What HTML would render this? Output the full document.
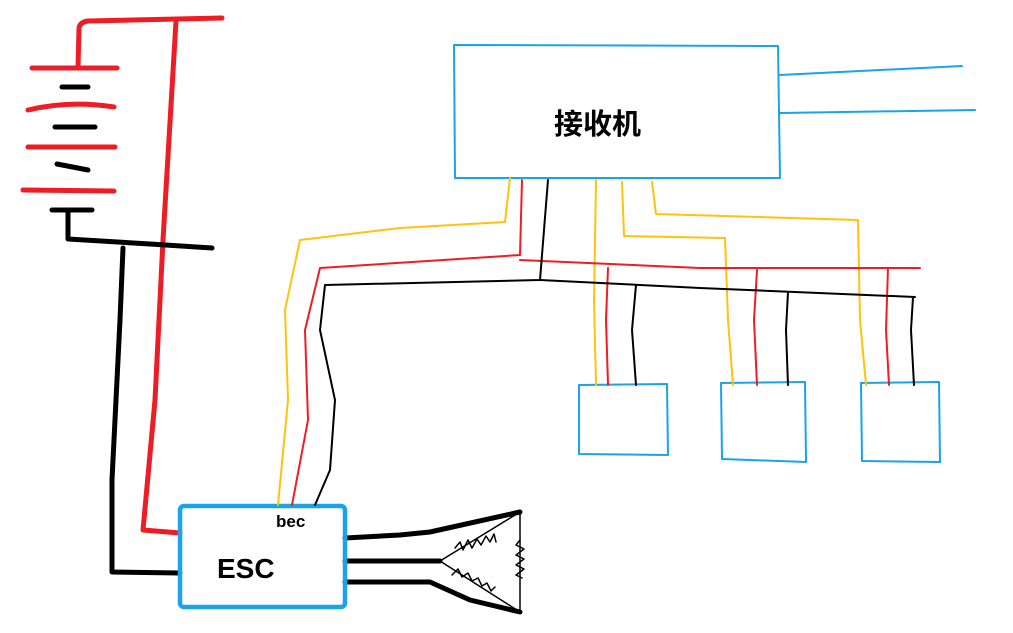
<!DOCTYPE html>
<html><head><meta charset="utf-8"><style>
html,body{margin:0;padding:0;background:#fff;width:1013px;height:633px;overflow:hidden}
svg{display:block}
</style></head><body>
<svg width="1013" height="633" viewBox="0 0 1013 633" xmlns="http://www.w3.org/2000/svg">
<g fill="none" stroke-linecap="round" stroke-linejoin="round">
<!-- battery -->
<g stroke="#ee1c24" stroke-width="5">
<path d="M78,68 L79,28 Q80,22 88,21 L222,18"/>
<path d="M32,68 L117,68"/>
<path d="M28,110 Q70,100 114,107"/>
<path d="M28,147 L115,147"/>
<path d="M23,190 L114,191"/>
<path d="M176,21 L163,240 L155,400 L143,530 L180,533"/>
</g>
<g stroke="#000" stroke-width="5">
<path d="M62,87 L88,87"/>
<path d="M55,127 L95,127"/>
<path d="M57,164 L88,170"/>
<path d="M52,210 L92,210"/>
<path d="M68,210 L68,239 L150,244 L212,248"/>
<path d="M123,248 L120,320 L112,480 L112,572 L180,573"/>
<path d="M345,538 L400,535 L430,532 L520,512"/>
<path d="M345,561 L440,561"/>
<path d="M345,582 L430,582 L470,600 L520,612"/>
</g>
<g stroke="#000" stroke-width="1.5">
<path d="M440,561 L520,512 L520,612 Z"/>
<path d="M455,548 l5,-6 l3,8 l5,-10 l4,8 l5,-9 l4,6 l5,-9 l4,6 l4,-8 l2,8" />
<path d="M452,575 l6,-6 l4,8 l6,-4 l4,8 l6,-3 l4,8 l5,-3 l4,8 l4,-4" />
<path d="M520,540 l-4,5 l8,4 l-8,6 l8,4 l-8,6 l8,4 l-8,6 l6,3" />
</g>
<!-- ESC -->
<rect x="180" y="506" width="165" height="101" rx="4" stroke="#1aa3e8" stroke-width="4.5"/>
<!-- receiver -->
<g stroke="#1aa3e8" stroke-width="2">
<path d="M454,45 L778,46 L780,178 L455,178 Z"/>
<path d="M780,75 L962,66"/>
<path d="M780,113 L975,110"/>
<path d="M579,385 L667,384 L668,455 L579,454 Z"/>
<path d="M721,383 L805,382 L806,462 L722,459 Z"/>
<path d="M861,383 L939,382 L940,462 L862,461 Z"/>
</g>
<!-- signal wires -->
<g stroke="#ffc20e" stroke-width="2">
<path d="M510,178 L505,222 L400,228 L300,240 L285,310 L288,400 L278,505"/>
<path d="M596,180 L594,300 L596,385"/>
<path d="M622,182 L624,236 L725,238 L728,320 L733,385"/>
<path d="M652,182 L656,214 L858,220 L860,320 L866,385"/>
</g>
<g stroke="#ee1c24" stroke-width="2">
<path d="M522,180 L520,255 L320,268 L305,330 L308,420 L292,505"/>
<path d="M520,260 L700,268 L920,268"/>
<path d="M608,268 L606,320 L608,385"/>
<path d="M757,270 L754,320 L757,385"/>
<path d="M888,268 L886,330 L889,385"/>
</g>
<g stroke="#000" stroke-width="2">
<path d="M548,180 L540,280 L325,285 L320,330 L335,400 L330,470 L315,505"/>
<path d="M540,280 L700,288 L915,297"/>
<path d="M636,285 L632,330 L636,385"/>
<path d="M788,292 L786,330 L788,385"/>
<path d="M913,297 L911,330 L914,385"/>
</g>
</g>
<text x="217" y="578" font-family="Liberation Sans, sans-serif" font-weight="bold" font-size="28">ESC</text>
<text x="276" y="527" font-family="Liberation Sans, sans-serif" font-weight="bold" font-size="17">bec</text>
<text x="554" y="134" font-family="'Liberation Sans','Noto Sans CJK SC',sans-serif" font-weight="bold" font-size="29">接收机</text>
</svg>
</body></html>
